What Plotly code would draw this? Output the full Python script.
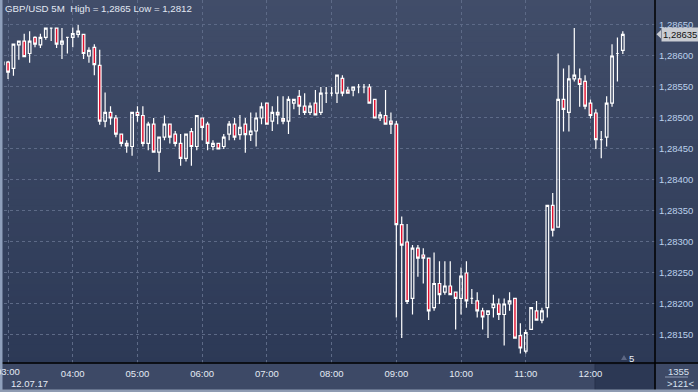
import pandas as pd
import plotly.graph_objects as go

start_time = "2017-07-12 02:55"

open_ = [1.28586, 1.28590, 1.28580, 1.28618, 1.28624, 1.28604, 1.28630, 1.28618, 1.28630, 1.28645,
         1.28645, 1.28619, 1.28630, 1.28630, 1.28635, 1.28635, 1.28600, 1.28614, 1.28585, 1.28495,
         1.28509, 1.28500, 1.28474, 1.28459, 1.28454, 1.28509, 1.28504, 1.28459, 1.28490, 1.28445,
         1.28469, 1.28490, 1.28474, 1.28459, 1.28435, 1.28478, 1.28454, 1.28500, 1.28490, 1.28454,
         1.28459, 1.28454, 1.28474, 1.28490, 1.28473, 1.28490, 1.28473, 1.28479, 1.28500, 1.28524,
         1.28495, 1.28509, 1.28499, 1.28495, 1.28524, 1.28535, 1.28519, 1.28509, 1.28524, 1.28509,
         1.28540, 1.28540, 1.28540, 1.28564, 1.28545, 1.28545, 1.28550, 1.28550, 1.28550, 1.28530,
         1.28500, 1.28504, 1.28495, 1.28490, 1.28328, 1.28300, 1.28209, 1.28290, 1.28279, 1.28274,
         1.28194, 1.28233, 1.28219, 1.28229, 1.28219, 1.28209, 1.28250, 1.28209, 1.28205, 1.28189,
         1.28183, 1.28194, 1.28200, 1.28183, 1.28200, 1.28209, 1.28149, 1.28124, 1.28159, 1.28189,
         1.28174, 1.28194, 1.28359, 1.28324, 1.28530, 1.28509, 1.28563, 1.28563, 1.28559, 1.28524,
         1.28508, 1.28465, 1.28469, 1.28524, 1.28604, 1.28609]
high = [1.28594, 1.28592, 1.28619, 1.28624, 1.28636, 1.28640, 1.28632, 1.28636, 1.28645, 1.28645,
        1.28645, 1.28645, 1.28630, 1.28646, 1.28650, 1.28635, 1.28614, 1.28619, 1.28610, 1.28541,
        1.28519, 1.28505, 1.28474, 1.28464, 1.28509, 1.28519, 1.28519, 1.28494, 1.28500, 1.28469,
        1.28504, 1.28490, 1.28479, 1.28474, 1.28474, 1.28484, 1.28504, 1.28500, 1.28494, 1.28464,
        1.28459, 1.28474, 1.28495, 1.28500, 1.28505, 1.28500, 1.28509, 1.28509, 1.28525, 1.28524,
        1.28519, 1.28535, 1.28535, 1.28535, 1.28530, 1.28545, 1.28540, 1.28525, 1.28545, 1.28550,
        1.28550, 1.28550, 1.28569, 1.28569, 1.28550, 1.28550, 1.28555, 1.28555, 1.28555, 1.28530,
        1.28510, 1.28545, 1.28509, 1.28495, 1.28341, 1.28329, 1.28295, 1.28295, 1.28290, 1.28274,
        1.28283, 1.28269, 1.28269, 1.28269, 1.28219, 1.28259, 1.28269, 1.28224, 1.28219, 1.28194,
        1.28189, 1.28215, 1.28209, 1.28209, 1.28219, 1.28209, 1.28169, 1.28159, 1.28194, 1.28205,
        1.28194, 1.28359, 1.28379, 1.28604, 1.28580, 1.28585, 1.28645, 1.28580, 1.28569, 1.28530,
        1.28514, 1.28479, 1.28535, 1.28619, 1.28630, 1.28640]
low = [1.28581, 1.28563, 1.28568, 1.28594, 1.28599, 1.28589, 1.28614, 1.28613, 1.28626, 1.28624,
       1.28613, 1.28595, 1.28604, 1.28614, 1.28630, 1.28595, 1.28589, 1.28569, 1.28489, 1.28485,
       1.28489, 1.28469, 1.28454, 1.28444, 1.28439, 1.28494, 1.28454, 1.28448, 1.28445, 1.28413,
       1.28464, 1.28459, 1.28454, 1.28423, 1.28430, 1.28423, 1.28448, 1.28464, 1.28448, 1.28448,
       1.28450, 1.28450, 1.28464, 1.28464, 1.28465, 1.28444, 1.28463, 1.28454, 1.28490, 1.28490,
       1.28479, 1.28490, 1.28490, 1.28474, 1.28514, 1.28505, 1.28505, 1.28505, 1.28505, 1.28505,
       1.28524, 1.28535, 1.28524, 1.28535, 1.28540, 1.28535, 1.28540, 1.28540, 1.28524, 1.28500,
       1.28495, 1.28490, 1.28474, 1.28178, 1.28145, 1.28200, 1.28183, 1.28244, 1.28233, 1.28174,
       1.28189, 1.28200, 1.28215, 1.28215, 1.28159, 1.28183, 1.28194, 1.28200, 1.28178, 1.28159,
       1.28145, 1.28178, 1.28174, 1.28133, 1.28189, 1.28145, 1.28120, 1.28120, 1.28159, 1.28174,
       1.28169, 1.28178, 1.28309, 1.28324, 1.28478, 1.28478, 1.28559, 1.28518, 1.28514, 1.28499,
       1.28450, 1.28435, 1.28454, 1.28518, 1.28559, 1.28603]
close = [1.28590, 1.28574, 1.28619, 1.28624, 1.28599, 1.28624, 1.28619, 1.28630, 1.28645, 1.28645,
         1.28619, 1.28624, 1.28630, 1.28636, 1.28640, 1.28604, 1.28609, 1.28586, 1.28495, 1.28509,
         1.28500, 1.28474, 1.28459, 1.28455, 1.28509, 1.28504, 1.28459, 1.28490, 1.28445, 1.28469,
         1.28490, 1.28469, 1.28459, 1.28435, 1.28474, 1.28454, 1.28504, 1.28485, 1.28459, 1.28459,
         1.28450, 1.28469, 1.28490, 1.28469, 1.28485, 1.28473, 1.28479, 1.28500, 1.28518, 1.28490,
         1.28509, 1.28505, 1.28495, 1.28530, 1.28530, 1.28519, 1.28509, 1.28519, 1.28505, 1.28540,
         1.28540, 1.28540, 1.28569, 1.28540, 1.28540, 1.28550, 1.28550, 1.28550, 1.28524, 1.28500,
         1.28505, 1.28490, 1.28490, 1.28328, 1.28295, 1.28204, 1.28290, 1.28274, 1.28274, 1.28189,
         1.28233, 1.28215, 1.28229, 1.28215, 1.28209, 1.28245, 1.28205, 1.28209, 1.28189, 1.28179,
         1.28189, 1.28200, 1.28183, 1.28200, 1.28205, 1.28145, 1.28129, 1.28154, 1.28194, 1.28174,
         1.28189, 1.28359, 1.28319, 1.28530, 1.28514, 1.28563, 1.28569, 1.28554, 1.28519, 1.28504,
         1.28465, 1.28465, 1.28524, 1.28600, 1.28604, 1.28635]

y_ticks = [1.2815, 1.2820, 1.2825, 1.2830, 1.2835, 1.2840, 1.2845, 1.2850, 1.2855, 1.2860, 1.2865]
title_text = "GBP/USD 5M  High = 1,2865 Low = 1,2812"
date_label = "12.07.17"
first_tick_label = "03:00"
last_price_label = "1,28635"
last_price = 1.28635
corner_top = "1355"
corner_bottom = ">121<"
count_label = "5"

times = pd.date_range(start_time, periods=len(open_), freq="5min")

W, H = 698, 392
ML, MR, MT, MB = 4, 43, 0, 29
PW, PH = W - ML - MR, H - MT - MB

def px(xp):
    return (xp - ML) / PW

def py(yp):
    return (H - MB - yp) / PH

FONT = "Liberation Sans, Arial"

fig = go.Figure()
fig.add_trace(go.Candlestick(
    x=times, open=open_, high=high, low=low, close=close,
    increasing=dict(line=dict(color="#ffffff", width=1.2), fillcolor="rgba(0,0,0,0)"),
    decreasing=dict(line=dict(color="#ffffff", width=1.2), fillcolor="#e3102f"),
    whiskerwidth=0, showlegend=False, hoverinfo="skip",
))

shapes = []
# vertical gradient background
top_c = (65, 77, 105)
bot_c = (44, 57, 86)
n = 60
for k in range(n):
    t = (k + 0.5) / n
    c = tuple(int(round(top_c[j] + (bot_c[j] - top_c[j]) * t)) for j in range(3))
    y0 = (H - MB) * k / n
    y1 = (H - MB) * (k + 1) / n + 0.5
    shapes.append(dict(type="rect", xref="paper", yref="paper", layer="below",
                       x0=px(0), x1=px(W), y0=py(y1), y1=py(y0),
                       fillcolor="rgb(%d,%d,%d)" % c, line=dict(width=0)))
# dark box bottom right of plot
shapes.append(dict(type="rect", xref="paper", yref="paper", layer="below",
                   x0=px(595), x1=px(655), y0=py(390), y1=py(364),
                   fillcolor="#2c3854", line=dict(color="#26304a", width=1)))
# frame lines
shapes.append(dict(type="line", xref="paper", yref="paper", x0=px(0), x1=px(W), y0=0, y1=0,
                   line=dict(color="#000000", width=1.5)))
shapes.append(dict(type="line", xref="paper", yref="paper", x0=1, x1=1, y0=py(H), y1=py(0),
                   line=dict(color="#000000", width=1.5)))
shapes.append(dict(type="rect", xref="paper", yref="paper", x0=px(0), x1=px(2.5), y0=py(H), y1=py(0),
                   fillcolor="#8fa0bc", line=dict(width=0)))
shapes.append(dict(type="rect", xref="paper", yref="paper", x0=px(0), x1=px(W), y0=py(H), y1=py(389.5),
                   fillcolor="#8e9bb2", line=dict(width=0)))
# separator under corner count
shapes.append(dict(type="line", xref="paper", yref="paper", x0=px(665), x1=px(688), y0=py(377), y1=py(377),
                   line=dict(color="#8d9ab2", width=1)))
# small triangle near count label
shapes.append(dict(type="path", xref="paper", yref="paper",
                   path="M %f,%f L %f,%f L %f,%f Z" % (px(621), py(360), px(627), py(360), px(624), py(355)),
                   fillcolor="#5d6884", line=dict(width=0)))
# arrow of last price tag
shapes.append(dict(type="path", xref="paper", yref="y",
                   path="M %f,%f L %f,%f L %f,%f Z" % (px(656.5), last_price, px(661), last_price + 0.00007,
                                                       px(661), last_price - 0.00007),
                   fillcolor="#c9ccd3", line=dict(width=0)))

annotations = [
    dict(text=title_text, xref="paper", yref="paper", x=px(3), y=py(8), xanchor="left", yanchor="middle",
         showarrow=False, font=dict(family=FONT, size=9.7, color="#e2e8f2")),
    dict(text=date_label, xref="paper", yref="paper", x=px(29.5), y=py(383), xanchor="center",
         yanchor="middle", showarrow=False, font=dict(family=FONT, size=9.5, color="#e4eaf4")),
    dict(text=first_tick_label, xref="paper", yref="paper", x=px(8), y=py(372), xanchor="center",
         yanchor="middle", showarrow=False, font=dict(family=FONT, size=9.5, color="#e4eaf4")),
    dict(text=last_price_label, xref="paper", yref="y", x=px(660.5), y=last_price, xanchor="left",
         yanchor="middle", showarrow=False, bgcolor="#c9ccd3", borderpad=1,
         font=dict(family=FONT, size=9.5, color="#111111")),
    dict(text=corner_top, xref="paper", yref="paper", x=px(666), y=py(371), xanchor="left",
         yanchor="middle", showarrow=False, font=dict(family=FONT, size=9.5, color="#d8e2f0")),
    dict(text=corner_bottom, xref="paper", yref="paper", x=px(665), y=py(383.5), xanchor="left",
         yanchor="middle", showarrow=False, font=dict(family=FONT, size=9.5, color="#d8e2f0")),
    dict(text=count_label, xref="paper", yref="paper", x=px(631.5), y=py(358), xanchor="center",
         yanchor="middle", showarrow=False, font=dict(family=FONT, size=9.5, color="#e8eef6")),
]

grid_col = "#5d6a87"
fig.update_layout(
    width=W, height=H,
    margin=dict(l=ML, r=MR, t=MT, b=MB, pad=0),
    paper_bgcolor="#3d4966",
    plot_bgcolor="rgba(0,0,0,0)",
    separators=",.",
    shapes=shapes,
    annotations=annotations,
    showlegend=False,
    xaxis=dict(
        type="date",
        range=["2017-07-12 02:56:15", "2017-07-12 12:59:50"],
        rangeslider=dict(visible=False),
        tickformat="%H:%M", dtick=3600000, tick0="2017-07-12 03:00",
        showgrid=True, gridcolor=grid_col, griddash="3px,3px", gridwidth=1,
        showline=False, zeroline=False, ticks="",
        tickfont=dict(family=FONT, size=9.5, color="#e4eaf4"),
        ticklabelstandoff=3,
    ),
    yaxis=dict(
        side="right",
        range=[1.281048, 1.286903],
        tickvals=y_ticks, tickformat=".5f",
        showgrid=True, gridcolor=grid_col, griddash="3px,3px", gridwidth=1,
        showline=False, zeroline=False, ticks="",
        tickfont=dict(family=FONT, size=9.5, color="#bcd0ec"),
        ticklabelstandoff=3,
    ),
)

fig.write_html("out.html")
